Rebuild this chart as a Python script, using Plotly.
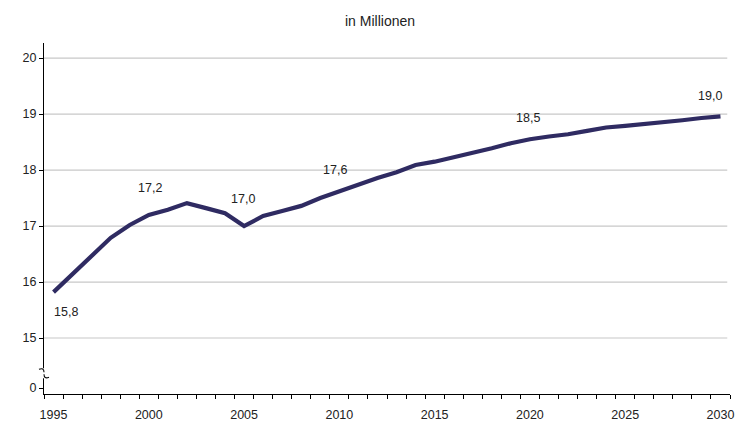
import plotly.graph_objects as go

# ---- data ----
years = list(range(1995, 2031))
values = [15.82, 16.14, 16.47, 16.79, 17.02, 17.20, 17.29, 17.41, 17.32, 17.23,
          17.00, 17.18, 17.27, 17.36, 17.50, 17.62, 17.75, 17.86, 17.96, 18.09,
          18.15, 18.23, 18.30, 18.39, 18.48, 18.55, 18.60, 18.64, 18.70, 18.76,
          18.79, 18.82, 18.85, 18.89, 18.93, 18.96]
label_years = [1995, 2000, 2005, 2010, 2020, 2030]
label_texts = ["15,8", "17,2", "17,0", "17,6", "18,5", "19,0"]
ytick_labels = ["0", "15", "16", "17", "18", "19", "20"]
xtick_years = [1995, 2000, 2005, 2010, 2015, 2020, 2025, 2030]
title_text = "in Millionen"

# broken axis: "0" is drawn just below 15
ZERO_POS = 14.107
ytick_vals = [ZERO_POS] + [float(t) for t in ytick_labels[1:]]

line_color = "#2f2b62"
font_family = "Liberation Sans, Arial, sans-serif"

W, H = 744, 421
L, R, T, B = 44, 14, 43, 27
plot_w, plot_h = W - L - R, H - T - B

fig = go.Figure()
fig.add_trace(go.Scatter(
    x=years, y=values, mode="lines",
    line=dict(color=line_color, width=4.2),
    hoverinfo="skip", showlegend=False,
))

# label offsets (pixels) keyed by year
shifts = {1995: (12, -20), 2000: (1, 27), 2005: (-1, 27), 2010: (-4, 21),
          2020: (-2, 21), 2030: (-10, 20)}
val_by_year = dict(zip(years, values))
annotations = []
for yr, txt in zip(label_years, label_texts):
    dx, dy = shifts[yr]
    annotations.append(dict(x=yr, y=val_by_year[yr], text=txt, showarrow=False,
                            xshift=dx, yshift=dy,
                            font=dict(size=12.5, color="#222222", family=font_family)))

annotations.append(dict(text=title_text, x=(380 - L) / plot_w, y=1 + (T - 21) / plot_h,
                        xref="paper", yref="paper", showarrow=False,
                        xanchor="center", yanchor="middle",
                        font=dict(size=14, color="#222222", family=font_family)))

fig.update_layout(
    width=W, height=H,
    margin=dict(l=L, r=R, t=T, b=B, autoexpand=False),
    paper_bgcolor="white", plot_bgcolor="white",
    annotations=annotations,
    font=dict(family=font_family, size=12.5, color="#222222"),
)
fig.update_xaxes(
    range=[years[0] - 0.5, years[-1] + 0.5],
    tickvals=xtick_years, ticktext=[str(y) for y in xtick_years],
    ticks="", showgrid=False, zeroline=False,
    showline=True, linecolor="black", linewidth=1.3,
    minor=dict(tick0=years[0] - 0.5, dtick=1, ticks="outside", ticklen=4,
               tickcolor="black", showgrid=False),
    ticklabelstandoff=9,
    automargin=False,
    tickfont=dict(size=12.5, color="#222222"),
    fixedrange=True,
)
fig.update_yaxes(
    range=[14.0, 20.27],
    tickvals=ytick_vals, ticktext=ytick_labels,
    ticks="outside", ticklen=4, tickcolor="black",
    showgrid=False, zeroline=False,
    showline=True, linecolor="black", linewidth=1.3,
    automargin=False,
    tickfont=dict(size=12.5, color="#222222"),
    fixedrange=True,
)

# gridlines at 15..20 (not at 0)
for v in ytick_vals[1:]:
    fig.add_shape(type="line", xref="paper", yref="y", x0=0, x1=0.996, y0=v, y1=v,
                  line=dict(color="#c8c8c8", width=1.2), layer="below")

# axis break symbol
BREAK = 14.37
fig.add_shape(type="rect", xref="paper", yref="y", xsizemode="pixel", ysizemode="pixel",
              xanchor=0, yanchor=BREAK, x0=-2, x1=2, y0=-5, y1=5,
              fillcolor="white", line=dict(width=0))
fig.add_shape(type="path", xref="paper", yref="y", xsizemode="pixel", ysizemode="pixel",
              xanchor=0, yanchor=BREAK,
              path="M -5,4 Q 0,6 0,1 M 0,-1 Q 0,-6 5,-4",
              line=dict(color="black", width=1.1))

fig.write_html("out.html")
